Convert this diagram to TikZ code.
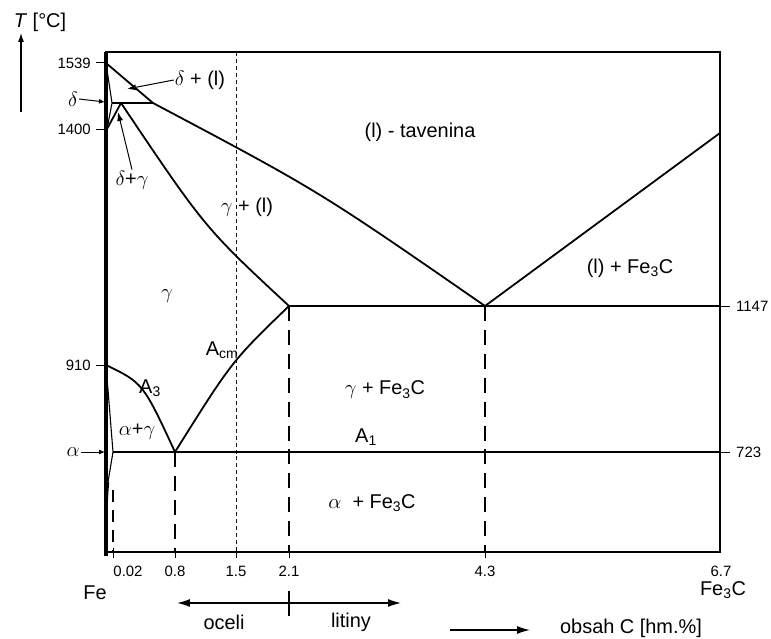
\documentclass[tikz,border=0pt]{standalone}
\usepackage{fontspec}
\setmainfont{Liberation Sans}
\usetikzlibrary{arrows.meta}
\definecolor{linegray}{RGB}{20,20,20}
\tikzset{
  frameline/.style={line width=2.6pt, draw=black},
  phase/.style={line width=1.8pt, draw=black},
  thinphase/.style={line width=1.1pt, draw=black},
  marker/.style={line width=1.4pt, draw=black, dash pattern=on 15pt off 9pt},
  guide/.style={line width=0.9pt, draw=linegray, dash pattern=on 4pt off 3pt},
  tickline/.style={line width=1pt, draw=black},
  lbl/.style={font=\fontsize{20}{23}\selectfont, inner sep=1pt},
  ticklbl/.style={font=\fontsize{15}{18}\selectfont, inner sep=1pt},
  pointer/.style={-{Latex[length=9pt,width=6pt]}, line width=1pt},
  flow/.style={line width=1.3pt}
}
\newcommand{\sbs}[1]{\textsubscript{#1}}
\begin{document}
\begin{tikzpicture}[x=1bp, y=-1bp]
    \useasboundingbox (0,0) rectangle (771,639);
    \coordinate (melt) at (106,63);
    \coordinate (peri) at (153,103);
    \coordinate (peril) at (112,103);
    \coordinate (perig) at (121,103);
    \coordinate (gd) at (107,129);
    \coordinate (cmax) at (289,306);
    \coordinate (eut) at (485,306);
    \coordinate (fe3c) at (720,133);
    \coordinate (g910) at (106,365);
    \coordinate (eutd) at (175,452);
    \coordinate (amax) at (113,452);
    \coordinate (asolv) at (108,482);
    \coordinate (eutR) at (720,306);
    \coordinate (A1R) at (720,452);
    \draw[guide] (236,52) -- (236,552);
    \draw[marker] (eutd) -- (175,552);
    \draw[marker] (cmax) -- (289,552);
    \draw[marker] (eut) -- (485,552);
    \draw[thinphase, dash pattern=on 12pt off 8pt] (113,490) -- (113,552);
    \draw[frameline] (106,52) rectangle (720,552);
    \draw[line width=3.6pt] (106,52) -- (106,556);
    \draw[phase] (melt) -- (peri) .. controls (319,191) .. (eut) -- (fe3c);
    \draw[phase] (peril) -- (peri);
    \draw[thinphase] (melt) -- (peril) -- (gd);
    \draw[phase] (perig) -- (gd);
    \draw[phase] (perig) .. controls (205,228) .. (cmax);
    \draw[phase] (g910) .. controls (143,383) .. (eutd);
    \draw[phase] (eutd) .. controls (232,361) .. (cmax);
    \draw[phase] (cmax) -- (eutR);
    \draw[phase] (amax) -- (A1R);
    \draw[thinphase] (g910) -- (amax) -- (asolv);
    \draw[line width=2.4pt] (asolv) .. controls (107,495) .. (106,515);
    \foreach \yy/\tl in {63/1539, 129/1400, 365/910} {
      \draw[tickline] (96,\yy) -- (106,\yy);
      \node[ticklbl, anchor=east] (t\tl) at (92,\yy) {\tl};
    }
    \foreach \yy/\tl in {306/1147, 452/723} {
      \draw[tickline] (720,\yy) -- (730,\yy);
      \node[ticklbl, anchor=west] (t\tl) at (735,\yy) {\tl};
    }
    \foreach \xx in {113,175,236,289,485} {
      \draw[tickline] (\xx,548) -- (\xx,558);
    }
    \node[ticklbl] (c002) at (128,571) {0.02};
    \node[ticklbl] (c08) at (175,571) {0.8};
    \node[ticklbl] (c15) at (236,571) {1.5};
    \node[ticklbl] (c21) at (289,571) {2.1};
    \node[ticklbl] (c43) at (485,571) {4.3};
    \node[ticklbl] (c67) at (721,571) {6.7};
    \node[lbl] (fe) at (95,593) {Fe};
    \node[lbl] (fec) at (723,590) {Fe\sbs{3}C};
    \node[lbl] (taxis) at (40,22) {\textit{T} [°C]};
    \coordinate (tlow) at (21,112);
    \coordinate (thigh) at (21,33);
    \draw[pointer, line width=1.2pt] (tlow) -- (thigh);
    \node[lbl] (liq) at (420,132) {(l) - tavenina};
    \node[lbl] (gl) at (247,207) {$\gamma$ + (l)};
    \node[lbl] (gam) at (167,296) {$\gamma$};
    \node[lbl] (acm) at (222,350) {A\sbs{cm}};
    \node[lbl] (a3) at (150,388) {A\sbs{3}};
    \node[lbl] (ag) at (137,432) {$\alpha$+$\gamma$};
    \node[lbl] (gfe) at (385,390) {$\gamma$ + Fe\sbs{3}C};
    \node[lbl] (a1) at (366,437) {A\sbs{1}};
    \node[lbl] (afe) at (372,503) {$\alpha$ \ + Fe\sbs{3}C};
    \node[lbl] (lfe) at (630,268) {(l) + Fe\sbs{3}C};
    \node[lbl] (dl) at (200,80) {$\delta$ + (l)};
    \coordinate (dlpt) at (127,89);
    \draw[pointer] (dl.west) -- (dlpt);
    \node[lbl] (dlab) at (73,99) {$\delta$};
    \coordinate (dpt) at (105,102);
    \draw[pointer, -{Latex[length=6pt,width=5pt]}] (dlab.east) -- (dpt);
    \node[lbl] (dg) at (132,180) {$\delta$+$\gamma$};
    \coordinate (dgpt) at (118,112);
    \draw[pointer] (dg.north) -- (dgpt);
    \node[lbl] (alab) at (73,452) {$\alpha$};
    \coordinate (apt) at (105,452);
    \draw[pointer, -{Latex[length=6pt,width=5pt]}] (alab.east) -- (apt);
    \coordinate (stl) at (177,603);
    \coordinate (str) at (401,603);
    \draw[flow, {Latex[length=13pt,width=8pt]}-{Latex[length=13pt,width=8pt]}] (stl) -- (str);
    \draw[line width=2pt] (289,591) -- (289,616);
    \node[lbl] (oceli) at (224,622) {oceli};
    \node[lbl] (litiny) at (351,622) {litiny};
    \coordinate (cl) at (450,630);
    \coordinate (cr) at (530,630);
    \draw[flow, -{Latex[length=13pt,width=8pt]}] (cl) -- (cr);
    \node[lbl] (obsah) at (631,628) {obsah C [hm.\%]};
\end{tikzpicture}
\end{document}
